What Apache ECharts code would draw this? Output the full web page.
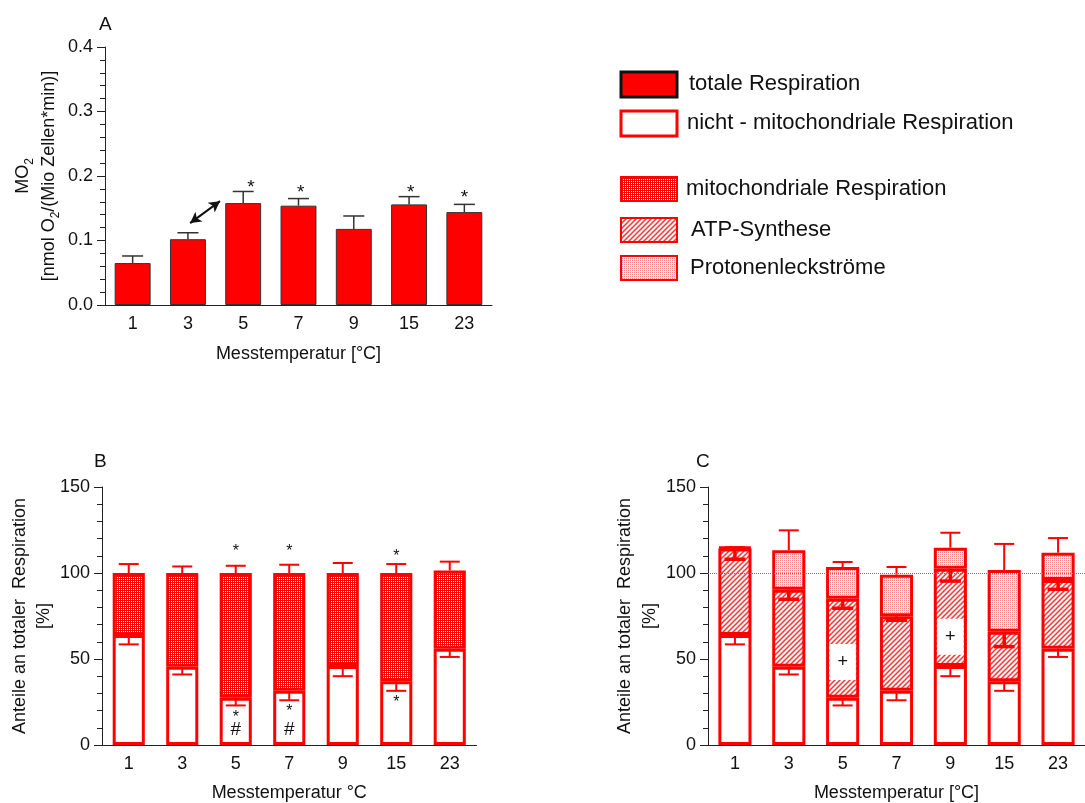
<!DOCTYPE html>
<html>
<head>
<meta charset="utf-8">
<script src="https://cdn.jsdelivr.net/npm/echarts@6/dist/echarts.min.js"></script>
<style>
html,body{margin:0;padding:0;background:#fff;}
#chart{width:1085px;height:803px;}
</style>
</head>
<body>
<div id="chart"></div>
<script>
// ---------------- data ----------------
const categories = ['1', '3', '5', '7', '9', '15', '23'];

// Panel A: total respiration MO2 (mean, SEM)
const totalMO2 = [0.065, 0.102, 0.158, 0.154, 0.118, 0.156, 0.144];
const totalMO2Err = [0.011, 0.010, 0.018, 0.011, 0.020, 0.012, 0.012];
const sigAX = [2.14, 3.04, 5.03, 6.0];
const sigAY = [0.19, 0.182, 0.182, 0.174];
const arrowA = [[1.04, 0.127], [1.58, 0.161]];

// Panel B: % of total respiration
const nonMito = [64, 45.5, 27.5, 31.5, 46, 37, 56];
const nonMitoErr = [5.5, 4.5, 4.5, 5.5, 6, 5.5, 4.8];
const totalPct = [100, 100, 100, 100, 100, 100, 101.5];
const totalPctErr = [5.2, 3.8, 4.2, 4.8, 5.8, 5.2, 5.1];
const starsB = [[2, 114.5], [3, 115], [5, 111.8], [2, 18], [3, 21.7], [5, 27]];
const hashB = [[2, 8.7], [3, 8.7]];

// Panel C: ATP synthesis and proton leak (cumulative tops)
const atpTop = [114.3, 90.3, 85, 74.8, 102.5, 65.9, 95.9];
const atpErr = [6.3, 5.6, 5.5, 2.3, 7.2, 8.7, 5.4];
const leakTop = [115, 113.2, 103.5, 99, 114.7, 101.7, 111.8];
const leakErr = [0, 11.6, 2.9, 4.5, 8.7, 15.2, 8.5];
const plusC = [[2, 48.3], [4, 63]];

// ---------------- styles ----------------
const FONT = "'Liberation Sans', Arial, Helvetica, sans-serif";
const RED = '#ff0000';
const AX = '#222';
const TXT = '#111';

function makePattern(w, h, draw) {
  const c = document.createElement('canvas');
  c.width = w; c.height = h;
  draw(c.getContext('2d'));
  return { image: c, repeat: 'repeat' };
}
const mitoPat = makePattern(2, 2, g => {
  g.fillStyle = '#ff0000'; g.fillRect(0, 0, 2, 2);
  g.fillStyle = '#ffffff'; g.fillRect(1, 1, 1, 1);
});
const leakPat = makePattern(2, 2, g => {
  g.fillStyle = '#ffffff'; g.fillRect(0, 0, 2, 2);
  g.fillStyle = '#ff8080'; g.fillRect(0, 0, 1, 1);
});
const atpPat = makePattern(5, 5, g => {
  g.fillStyle = '#ffffff'; g.fillRect(0, 0, 5, 5);
  g.strokeStyle = '#ff3030'; g.lineWidth = 1.5;
  g.beginPath();
  g.moveTo(-1, 6); g.lineTo(6, -1);
  g.moveTo(-1, 1); g.lineTo(1, -1);
  g.moveTo(4, 6); g.lineTo(6, 4);
  g.stroke();
});

function errRender(color, lw, capPx) {
  return function (params, api) {
    const i = api.value(0);
    const p0 = api.coord([i, api.value(1)]);
    const p1 = api.coord([i, api.value(2)]);
    const half = capPx / 2;
    return {
      type: 'group',
      children: [
        { type: 'line', shape: { x1: p0[0], y1: p0[1], x2: p1[0], y2: p1[1] }, style: { stroke: color, lineWidth: lw } },
        { type: 'line', shape: { x1: p1[0] - half, y1: p1[1], x2: p1[0] + half, y2: p1[1] }, style: { stroke: color, lineWidth: lw } }
      ]
    };
  };
}
function errData(tops, errs, sign) {
  return tops.map((t, i) => [i, t, t + sign * errs[i]]);
}

function catAxis(gridIndex, name, nameGap) {
  return {
    type: 'category', gridIndex, data: categories, z: 10,
    axisLine: { onZero: false, lineStyle: { color: AX, width: 1 } },
    axisTick: { alignWithLabel: true, length: 6, lineStyle: { color: AX } },
    axisLabel: { fontSize: 18, fontFamily: FONT, color: TXT, margin: 10 },
    name, nameLocation: 'middle', nameGap,
    nameTextStyle: { fontSize: 18, fontFamily: FONT, color: TXT }
  };
}
function valAxis(gridIndex, max, interval, name, nameGap, lineHeight, fmt, rich) {
  return {
    type: 'value', gridIndex, min: 0, max, interval,
    axisLine: { show: true, onZero: false, lineStyle: { color: AX, width: 1 } },
    axisTick: { show: true, length: 8, lineStyle: { color: AX } },
    minorTick: { show: true, splitNumber: 5, length: 5, lineStyle: { color: AX } },
    splitLine: { show: false },
    axisLabel: { fontSize: 18, fontFamily: FONT, color: TXT, margin: 12, formatter: fmt },
    name, nameLocation: 'middle', nameGap,
    nameTextStyle: { fontSize: 18, fontFamily: FONT, color: TXT, lineHeight, rich }
  };
}

const mitoVals = totalPct.map((t, i) => +(t - nonMito[i]).toFixed(2));
const atpVals = atpTop.map((t, i) => +(t - nonMito[i]).toFixed(2));
const leakVals = leakTop.map((t, i) => +(t - atpTop[i]).toFixed(2));

const chart = echarts.init(document.getElementById('chart'), null, { renderer: 'canvas' });

const option = {
  animation: false,
  backgroundColor: '#ffffff',
  textStyle: { fontFamily: FONT },
  grid: [
    { left: 105, top: 47, right: 593, bottom: 498 },
    { left: 102, top: 487, right: 608.5, bottom: 58 },
    { left: 708, top: 487, right: -10, bottom: 58 }
  ],
  xAxis: [
    catAxis(0, 'Messtemperatur [°C]', 40),
    catAxis(1, 'Messtemperatur °C', 39),
    catAxis(2, 'Messtemperatur [°C]', 39),
    { type: 'value', gridIndex: 0, min: -0.5, max: 6.5, show: false }
  ],
  yAxis: [
    valAxis(0, 0.4, 0.1, 'MO{sub|2}\n[nmol O{sub|2}/(Mio Zellen*min)]', 43, 26,
      v => v.toFixed(1),
      { sub: { fontSize: 12, fontFamily: FONT, color: TXT, verticalAlign: 'bottom', lineHeight: 20 } }),
    valAxis(1, 150, 50, 'Anteile an totaler  Respiration\n[%]', 41, 24, v => String(v)),
    valAxis(2, 150, 50, 'Anteile an totaler  Respiration\n[%]', 44, 25, v => String(v))
  ],
  graphic: [
    { type: 'text', x: 99, y: 25, style: { text: 'A', fontSize: 19, fontFamily: FONT, fill: TXT, verticalAlign: 'middle' } },
    { type: 'text', x: 94, y: 462, style: { text: 'B', fontSize: 19, fontFamily: FONT, fill: TXT, verticalAlign: 'middle' } },
    { type: 'text', x: 696, y: 462, style: { text: 'C', fontSize: 19, fontFamily: FONT, fill: TXT, verticalAlign: 'middle' } },
    // legend
    { type: 'rect', shape: { x: 621, y: 72, width: 56, height: 25 }, style: { fill: RED, stroke: '#111', lineWidth: 3 } },
    { type: 'text', x: 689, y: 84, style: { text: 'totale Respiration', fontSize: 22, fontFamily: FONT, fill: TXT, verticalAlign: 'middle' } },
    { type: 'rect', shape: { x: 621, y: 111, width: 56, height: 25 }, style: { fill: '#fff', stroke: RED, lineWidth: 3 } },
    { type: 'text', x: 687, y: 123, style: { text: 'nicht - mitochondriale Respiration', fontSize: 22, fontFamily: FONT, fill: TXT, verticalAlign: 'middle' } },
    { type: 'rect', shape: { x: 621, y: 177, width: 56, height: 24 }, style: { fill: mitoPat, stroke: RED, lineWidth: 2 } },
    { type: 'text', x: 686, y: 189, style: { text: 'mitochondriale Respiration', fontSize: 22, fontFamily: FONT, fill: TXT, verticalAlign: 'middle' } },
    { type: 'rect', shape: { x: 621, y: 218, width: 56, height: 24 }, style: { fill: atpPat, stroke: RED, lineWidth: 2 } },
    { type: 'text', x: 691, y: 230, style: { text: 'ATP-Synthese', fontSize: 22, fontFamily: FONT, fill: TXT, verticalAlign: 'middle' } },
    { type: 'rect', shape: { x: 621, y: 256, width: 56, height: 24 }, style: { fill: leakPat, stroke: RED, lineWidth: 2 } },
    { type: 'text', x: 690, y: 268, style: { text: 'Protonenleckströme', fontSize: 22, fontFamily: FONT, fill: TXT, verticalAlign: 'middle' } }
  ],
  series: [
    // ---- A ----
    { name: 'totale Respiration', type: 'bar', xAxisIndex: 0, yAxisIndex: 0, data: totalMO2, barWidth: '65%',
      itemStyle: { color: RED, borderColor: '#333', borderWidth: 1 } },
    { type: 'custom', xAxisIndex: 0, yAxisIndex: 0, data: errData(totalMO2, totalMO2Err, 1),
      encode: { x: 0, y: [1, 2] }, renderItem: errRender('#333', 1.5, 21), z: 3 },
    { type: 'scatter', xAxisIndex: 3, yAxisIndex: 0, symbolSize: 0, itemStyle: { opacity: 1 },
      data: sigAX.map((x, i) => [x, sigAY[i]]),
      label: { show: true, position: 'inside', formatter: '*', fontSize: 19, fontFamily: FONT, color: TXT, offset: [0, 5] } },
    { type: 'scatter', xAxisIndex: 3, yAxisIndex: 0, symbolSize: 0, data: [arrowA[0]],
      markLine: { silent: true, symbol: ['arrow', 'arrow'], symbolSize: [9, 11], label: { show: false },
        lineStyle: { color: '#111', width: 2, type: 'solid' },
        data: [[{ coord: arrowA[0] }, { coord: arrowA[1] }]] } },

    // ---- B ----
    { name: 'nicht - mitochondriale Respiration', type: 'bar', stack: 'B', xAxisIndex: 1, yAxisIndex: 1,
      data: nonMito, barWidth: '60%', itemStyle: { color: '#fff', borderColor: RED, borderWidth: 3 } },
    { name: 'mitochondriale Respiration', type: 'bar', stack: 'B', xAxisIndex: 1, yAxisIndex: 1,
      data: mitoVals, barWidth: '60%', itemStyle: { color: mitoPat, borderColor: RED, borderWidth: 3 } },
    { type: 'custom', xAxisIndex: 1, yAxisIndex: 1, data: errData(nonMito, nonMitoErr, -1),
      encode: { x: 0, y: [1, 2] }, renderItem: errRender(RED, 2, 20), z: 3 },
    { type: 'custom', xAxisIndex: 1, yAxisIndex: 1, data: errData(totalPct, totalPctErr, 1),
      encode: { x: 0, y: [1, 2] }, renderItem: errRender(RED, 2, 20), z: 3 },
    { type: 'scatter', xAxisIndex: 1, yAxisIndex: 1, symbolSize: 0, data: starsB, itemStyle: { opacity: 1 },
      label: { show: true, position: 'inside', formatter: '*', fontSize: 16, fontFamily: FONT, color: TXT, offset: [0, 4] } },
    { type: 'scatter', xAxisIndex: 1, yAxisIndex: 1, symbolSize: 0, data: hashB, itemStyle: { opacity: 1 },
      label: { show: true, position: 'inside', formatter: '#', fontSize: 19, fontFamily: FONT, color: TXT } },

    // ---- C ----
    { type: 'bar', stack: 'C', xAxisIndex: 2, yAxisIndex: 2,
      data: nonMito, barWidth: '61.5%', itemStyle: { color: '#fff', borderColor: RED, borderWidth: 3 } },
    { name: 'ATP-Synthese', type: 'bar', stack: 'C', xAxisIndex: 2, yAxisIndex: 2,
      data: atpVals, barWidth: '61.5%', itemStyle: { color: atpPat, borderColor: RED, borderWidth: 3 } },
    { name: 'Protonenleckströme', type: 'bar', stack: 'C', xAxisIndex: 2, yAxisIndex: 2,
      data: leakVals, barWidth: '61.5%', itemStyle: { color: leakPat, borderColor: RED, borderWidth: 3 },
      markLine: { silent: true, symbol: 'none', label: { show: false },
        lineStyle: { type: 'dotted', color: '#777', width: 1 }, data: [{ yAxis: 100 }] } },
    { type: 'custom', xAxisIndex: 2, yAxisIndex: 2, data: errData(nonMito, nonMitoErr, -1),
      encode: { x: 0, y: [1, 2] }, renderItem: errRender(RED, 2, 20), z: 3 },
    { type: 'custom', xAxisIndex: 2, yAxisIndex: 2, data: errData(atpTop, atpErr, -1),
      encode: { x: 0, y: [1, 2] }, renderItem: errRender(RED, 3.5, 21), z: 3 },
    { type: 'custom', xAxisIndex: 2, yAxisIndex: 2, data: errData(leakTop, leakErr, 1),
      encode: { x: 0, y: [1, 2] }, renderItem: errRender(RED, 2, 20), z: 3 },
    { type: 'scatter', xAxisIndex: 2, yAxisIndex: 2, symbolSize: 0, data: plusC, z: 4, itemStyle: { opacity: 1 },
      label: { show: true, position: 'inside', formatter: '+', fontSize: 18, fontFamily: FONT, color: TXT,
        backgroundColor: '#fff', padding: [9, 8, 9, 8] } }
  ]
};
chart.setOption(option);
</script>
</body>
</html>
